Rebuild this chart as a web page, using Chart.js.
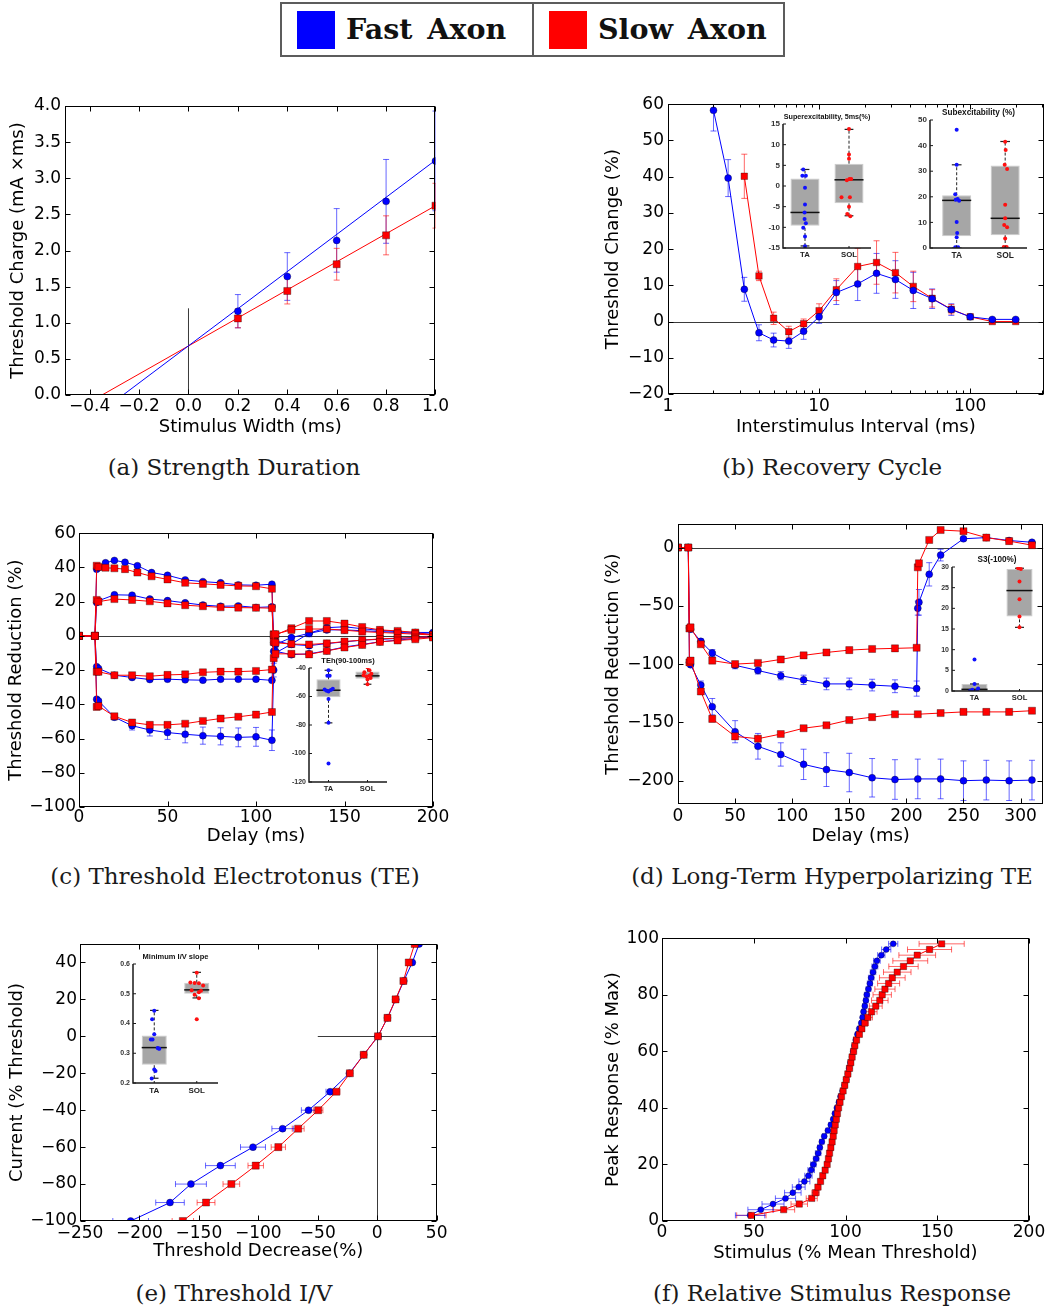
<!DOCTYPE html>
<html><head><meta charset="utf-8">
<script src="https://cdn.jsdelivr.net/npm/chart.js@4.4.0/dist/chart.umd.min.js"></script>
<style>
html,body{margin:0;padding:0;background:#fff;}
body{width:1049px;height:1309px;position:relative;overflow:hidden;}
canvas{position:absolute;}
.cap{position:absolute;font-family:"DejaVu Serif",serif;font-size:23px;line-height:1;white-space:nowrap;transform:translate(-50%,-50%);color:#1a1a1a;}
.lg{position:absolute;font-family:"DejaVu Serif",serif;font-weight:bold;font-size:28.5px;line-height:1;white-space:nowrap;word-spacing:5px;color:#111;}
.sw{position:absolute;width:38px;height:38px;}
</style></head><body>
<div style="position:absolute;left:280px;top:2px;width:505px;height:55px;box-sizing:border-box;border:2px solid #5c5c5c;"></div>
<div style="position:absolute;left:532px;top:2px;width:2px;height:55px;background:#5c5c5c;"></div>
<div class="sw" style="left:297px;top:11px;background:#0000ff"></div>
<div class="lg" style="left:346px;top:14.5px;">Fast Axon</div>
<div class="sw" style="left:549px;top:11px;background:#ff0000"></div>
<div class="lg" style="left:598px;top:14.5px;">Slow Axon</div>

<div class="cap" style="left:234px;top:467px;">(a) Strength Duration</div>
<div class="cap" style="left:832px;top:467px;">(b) Recovery Cycle</div>
<div class="cap" style="left:235px;top:876px;">(c) Threshold Electrotonus (TE)</div>
<div class="cap" style="left:832px;top:876px;">(d) Long-Term Hyperpolarizing TE</div>
<div class="cap" style="left:234px;top:1293px;">(e) Threshold I/V</div>
<div class="cap" style="left:832px;top:1293px;">(f) Relative Stimulus Response</div>

<script>
// ---------------- DATA ----------------
// (a) Strength duration
const sdWidth   = [0.2, 0.4, 0.6, 0.8, 1.0];
const sdFast    = [1.16, 1.64, 2.14, 2.68, 3.24];
const sdFastErr = [0.23, 0.33, 0.44, 0.58, 0.69];
const sdSlow    = [1.06, 1.44, 1.81, 2.21, 2.62];
const sdSlowErr = [0.13, 0.18, 0.22, 0.27, 0.31];
const sdFastFitX = [-0.265, 1.0], sdFastFitY = [0, 3.25];
const sdSlowFitX = [-0.35, 1.0],  sdSlowFitY = [0, 2.62];
const sdRefX = [0, 0], sdRefY = [0, 1.2];
const sdTicksX = [-0.4, -0.2, 0, 0.2, 0.4, 0.6, 0.8, 1.0];
const sdTicksY = [0, 0.5, 1, 1.5, 2, 2.5, 3, 3.5, 4];

// (b) Recovery cycle
const rcInterval = [2, 2.5, 3.2, 4, 5, 6.3, 7.9, 10, 13, 18, 24, 32, 42, 56, 75, 100, 140, 200];
const rcFast    = [58.3, 39.6, 8.9, -3.1, -5.1, -5.4, -2.7, 1.3, 8.0, 10.4, 13.3, 11.6, 8.6, 6.3, 3.3, 1.3, 0.6, 0.6];
const rcFastErr = [5.7, 5.1, 3.3, 2.2, 1.9, 2.0, 2.2, 1.8, 3.3, 4.6, 5.5, 5.2, 5.0, 2.7, 1.6, 0.6, 0.4, 0.3];
const rcSlowInterval = [3.2, 4, 5, 6.3, 7.9, 10, 13, 18, 24, 32, 42, 56, 75, 100, 140, 200];
const rcSlow    = [40.1, 12.6, 0.9, -2.8, -0.6, 3.0, 8.8, 15.2, 16.3, 13.5, 9.7, 6.4, 3.4, 1.3, 0.0, 0.0];
const rcSlowErr = [6.1, 1.3, 1.7, 1.5, 1.3, 1.9, 3.0, 5.0, 6.0, 5.6, 4.2, 2.4, 1.3, 0.4, 0.3, 0.2];
const rcTicksX = [1, 10, 100];
const rcMinorX = [2, 3, 4, 5, 6, 7, 8, 9, 20, 30, 40, 50, 60, 70, 80, 90, 200, 300];
const rcTicksY = [-20, -10, 0, 10, 20, 30, 40, 50, 60];

// (c) Threshold electrotonus
const teDelayA  = [0, 9, 10, 11, 15, 20, 26, 33, 41, 50, 60, 70, 80, 90, 100, 109, 110, 111, 120, 130, 140, 150, 160, 170, 180, 190, 200];
const teFastP40 = [0, 0, 39, 40, 42.7, 44.1, 43, 41, 37, 35.4, 32.7, 31.7, 31, 29.8, 29.6, 30.2, -4, -9, -11, -10.5, -8.7, -6.5, -5, -3.5, -2.5, -1.5, -0.5];
const teSlowP40 = [0, 0, 41, 40.2, 39.8, 39.5, 39, 37, 34.8, 33, 31, 30.4, 29.8, 29.2, 29, 27.5, -13, -10.5, -10.5, -10.8, -8.8, -6.8, -5.3, -3.5, -2.7, -2, -1];
const teDelayB  = [0, 9, 10, 11, 20, 30, 40, 50, 60, 70, 80, 90, 100, 109, 110, 111, 120, 130, 140, 150, 160, 170, 180, 190, 200];
const teFastP20 = [0, 0, 19.5, 20.5, 24, 23.8, 21.5, 20.6, 19.3, 18, 17.3, 17.5, 16.6, 17, -1, -3, -5, -5.7, -4.5, -3.5, -2.5, -2, -1.5, -1, -0.5];
const teSlowP20 = [0, 0, 21, 20, 21.5, 21, 20.2, 19, 17.9, 17.3, 16.7, 16.5, 16.4, 16.2, -3.5, -4, -4.8, -5, -4.4, -3.3, -2.5, -1.8, -1.3, -1, -0.5];
const teFastM20 = [0, 0, -18, -19, -23, -24.3, -25.5, -25.3, -25.7, -25.9, -25.3, -25.3, -25.3, -26, -9, -5, -1, 1.5, 3.5, 3.5, 3, 2.5, 2, 1.5, 1];
const teSlowM20 = [0, 0, -21, -21, -23, -23, -23.6, -22.8, -22.5, -21.3, -20.9, -20.9, -20.5, -19.7, 0.5, 1, 3.5, 4, 4, 3.3, 2.5, 2, 1.5, 1, 0.5];
const teFastM40 = [0, 0, -37, -38, -47.5, -52.5, -55, -56.5, -57.5, -58.3, -58.7, -59.3, -59, -61, -20, -10, -4.8, 1.5, 4.8, 5.3, 4.2, 3.2, 2.5, 2, 2];
const teFastM40Err = [0, 0, 1, 1, 1.5, 2.5, 3.5, 4, 5, 5, 5, 5.5, 5.5, 6, 4, 3, 2, 2, 1.5, 1.5, 1, 1, 1, 1, 1];
const teSlowM40 = [0, 0, -41.5, -41, -47, -50.6, -52, -52, -51.3, -49.7, -48.3, -47.3, -46, -44.5, 1, 0.5, 4.5, 8.7, 8.7, 7.2, 5.2, 3.5, 2.9, 2, 0.5];
const teTicksX = [0, 50, 100, 150, 200];
const teTicksY = [-100, -80, -60, -40, -20, 0, 20, 40, 60];

// (d) Long-term hyperpolarizing TE
const lhDelayUpper = [0, 9, 10, 11, 20, 30, 50, 70, 90, 110, 130, 150, 170, 190, 209, 210, 211, 220, 230, 250, 270, 290, 310];
const lhFastUpper    = [0, 0, -69, -70, -80.5, -90.5, -101, -105.5, -110, -113.5, -117, -117, -118, -119, -121, -52, -47, -23, -6.5, 7.5, 8.5, 6, 4.5];
const lhFastUpperErr = [0, 0, 1, 1, 2, 3, 3, 3, 3.5, 4, 5, 5, 5, 5.5, 6.5, 6, 11, 10, 5, 1.5, 1.5, 1, 1];
const lhSlowUpper    = [0, 0, -69.5, -68.5, -83, -97, -100, -99, -96, -92.5, -90, -88, -87, -86.5, -86, -17, -13.5, 6.5, 15, 14, 8.5, 5.5, 2];
const lhSlowUpperErr = [0, 0, 1, 1, 1.5, 2, 2, 2, 1.5, 1.5, 1.5, 1.5, 1.5, 1.5, 1.5, 2, 2, 1.5, 1.5, 1.5, 1, 1, 1];
const lhDelayLower = [0, 9, 10, 11, 20, 30, 50, 70, 90, 110, 130, 150, 170, 190, 210, 230, 250, 270, 290, 310];
const lhFastLower    = [0, 0, -98.5, -100.5, -118, -136.5, -158, -170.5, -177.5, -186, -190.5, -193, -197.5, -199, -198.5, -198.5, -200, -199.5, -200, -199.5];
const lhFastLowerErr = [0, 0, 1, 1, 3.5, 7, 9.5, 11, 10, 13, 14.5, 16.5, 16.5, 17, 17, 17, 17, 17, 17, 17];
const lhSlowLower    = [0, 0, -98.5, -97, -123.5, -147, -162, -164, -160, -155, -152.5, -148, -145.5, -143, -143, -142, -141, -141, -141, -140];
const lhSlowLowerErr = [0, 0, 1, 1, 2, 2.5, 2.5, 2.5, 2, 2, 2, 2, 2, 2, 2, 2, 2, 2, 2, 2];
const lhTicksX = [0, 50, 100, 150, 200, 250, 300];
const lhTicksY = [-200, -150, -100, -50, 0];

// (e) Threshold I/V
const ivCurrent = [50, 40, 30, 20, 10, 0, -10, -20, -30, -40, -50, -60, -70, -80, -90, -100];
const ivFast    = [35.2, 29.5, 22.3, 15.6, 8.6, 0.6, -11.4, -23.4, -39.6, -57.8, -79.6, -104.5, -131.9, -156.7, -174.3, -207.4];
const ivFastErr = [1, 1, 1, 1, 0.5, 0.5, 0.5, 1, 3.5, 6, 9, 10.5, 12.5, 13, 12, 15];
const ivSlow    = [31.5, 26.5, 22, 15.4, 8.6, 0.6, -11.4, -23, -34.4, -49.7, -66.5, -83.2, -102.2, -122.7, -144, -163.5];
const ivSlowErr = [1, 1, 1, 1, 0.5, 0.5, 0.5, 1, 3, 4, 5, 6, 6.5, 7, 7.5, 9];
const ivTicksX = [-250, -200, -150, -100, -50, 0, 50];
const ivTicksY = [-100, -80, -60, -40, -20, 0, 20, 40];

// (f) Relative stimulus response
const srResponse = [2, 4, 6, 8, 10, 12, 14, 16, 18, 20, 22, 24, 26, 28, 30, 32, 34, 36, 38, 40, 42, 44, 46, 48, 50,
                    52, 54, 56, 58, 60, 62, 64, 66, 68, 70, 72, 74, 76, 78, 80, 82, 84, 86, 88, 90, 92, 94, 96, 98];
const srFast = [48, 53.8, 60.5, 67.3, 71.3, 74.5, 77.6, 79.8, 81.3, 82.5, 84, 85.1, 86, 87.1, 88.4, 90.4, 92, 93.3, 94.2, 95.3,
                96.4, 97.3, 98.4, 99.5, 100.4, 101.3, 102, 102.7, 103.5, 104.2, 104.9, 105.6, 106.5, 107.5, 108.6, 109.3, 109.8,
                110.5, 111.1, 111.6, 112.5, 113.3, 114, 115, 116, 117.1, 119.5, 122.2, 126];
const srFastErr = [8, 7, 6, 5.5, 4.5, 3.5, 3, 2, 1.8, 1.5, 1.5, 1.5, 1.2, 1.2, 1, 1, 1, 1, 1, 1, 1, 1, 1, 1, 1,
                   1, 1, 1, 1, 1, 1, 1, 1, 1, 1, 1, 1, 1.2, 1.2, 1.3, 1.3, 1.4, 1.5, 1.5, 1.6, 1.8, 2, 2.5, 2.5];
const srSlow = [48.7, 66.3, 74.8, 81.6, 83.7, 85, 86.4, 87.6, 88.9, 90, 90.7, 91.3, 92, 92.7, 93.3, 93.8, 94.4, 95, 95.6, 96.2,
                97, 97.8, 98.7, 99.6, 100.4, 101.3, 102.2, 102.9, 103.6, 104.4, 105.1, 106, 107.5, 108.9, 110.5, 112.2, 114.2,
                116.5, 118.7, 120, 121.5, 123.5, 125.5, 128.2, 131.6, 135.3, 139.1, 145.8, 152.4];
const srSlowErr = [8, 6, 4.5, 3, 2, 1.5, 1.2, 1, 1, 1, 1, 1, 1, 1, 1, 1, 1, 1, 1, 1, 1, 1, 1, 1, 1,
                   1, 1, 1, 1, 1, 1, 1.2, 1.5, 1.5, 2, 2.5, 3, 3.5, 4.5, 5, 5.5, 6, 7, 7.5, 8, 9.5, 10, 12, 12.3];
const srTicksX = [0, 50, 100, 150, 200];
const srTicksY = [0, 20, 40, 60, 80, 100];

// Inset box plots
const superTA = [4.0, 2.5, 2.5, -0.4, -4.5, -6.4, -8.0, -9.0, -10.1, -12.2, -14.6];
const superTAJit = [-0.04, -0.06, 0.02, 0, 0, -0.01, -0.01, 0.02, -0.04, 0, 0];
const superSOL = [13.8, 7.6, 6.6, 1.7, 1.7, 1.4, -2.7, -2.7, -5.0, -6.8, -7.3];
const superSOLJit = [0, 0, 0, 0.01, 0.05, -0.05, -0.17, 0.02, 0, -0.04, 0.03];
const superBox = [[-9.6, 1.8], [-4.2, 5.4]], superMed = [-6.4, 1.5], superWhisk = [[-14.5, 4.0], [-7.2, 13.7]];
const superTicks = [-15, -10, -5, 0, 5, 10, 15];

const subTA = [46.2, 32.5, 21, 19.1, 18.8, 18.5, 10.2, 5.9, 4.2, 0.3, 0.3];
const subTAJit = [0, 0, -0.03, 0.02, -0.02, 0.05, 0, 0.01, 0, -0.03, 0.03];
const subSOL = [41.5, 38.3, 32.5, 30.9, 16.9, 11.6, 9.0, 8.1, 3.7, 0.4, 0.4];
const subSOLJit = [0, 0.01, -0.01, 0.04, 0, 0, -0.02, 0.04, 0, -0.03, 0.03];
const subBox = [[4.6, 20.6], [5, 32.2]], subMed = [18.6, 11.6], subWhisk = [[0, 32.5], [0, 41.6]];
const subTicks = [0, 10, 20, 30, 40, 50];

const tehTA = [-41.6, -45.5, -45.5, -55, -56, -56.5, -55.5, -54.5, -61.7, -78.5, -107];
const tehTAJit = [0, -0.03, 0.03, -0.1, -0.05, 0, 0.06, 0.11, 0, 0, 0];
const tehSOL = [-39.5, -41.5, -43, -44, -45, -45.5, -46, -47, -48, -51.4];
const tehSOLJit = [0, 0.05, -0.08, 0.1, -0.1, 0.05, -0.03, 0.08, 0, 0];
const tehBox = [[-60.5, -47.9], [-47.5, -42.5]], tehMed = [-55.6, -45.5], tehWhisk = [[-78.5, -41.6], [-51.4, -39.3]];
const tehTicks = [-120, -100, -80, -60, -40];

const s3TA = [7.6, 1.7, 0.6, 0.3, 0, 0];
const s3TAJit = [0, 0, 0.08, -0.05, -0.1, 0.05];
const s3SOL = [29.7, 29.5, 26.5, 22.2, 18, 15.4];
const s3SOLJit = [-0.03, 0.03, 0, 0, 0, 0];
const s3Box = [[0, 1.7], [18, 29.5]], s3Med = [0.4, 24.3], s3Whisk = [[0, 1.7], [15.4, 29.7]];
const s3Ticks = [0, 5, 10, 15, 20, 25, 30];

const ivsTA = [0.443, 0.414, 0.364, 0.346, 0.346, 0.318, 0.316, 0.315, 0.245, 0.24, 0.215];
const ivsTAJit = [0, -0.05, 0, -0.08, -0.04, 0.08, 0.1, 0.12, 0, 0.03, -0.06];
const ivsSOL = [0.571, 0.538, 0.536, 0.535, 0.528, 0.512, 0.51, 0.505, 0.497, 0.485, 0.414];
const ivsSOLJit = [0, -0.15, -0.05, 0.05, 0.15, -0.12, 0.1, 0.05, -0.05, 0.05, 0];
const ivsBox = [[0.2615, 0.36], [0.50, 0.537]], ivsMed = [0.319, 0.513], ivsWhisk = [[0.216, 0.444], [0.486, 0.572]];
const ivsTicks = [0.2, 0.3, 0.4, 0.5, 0.6];
const groupNames = ['TA', 'SOL'];

// ---------------- STYLE / HELPERS ----------------
const FONT = '"DejaVu Sans", sans-serif';
const IFONT = '"Liberation Sans", Arial, sans-serif';
const BLUE = '#0000ff', RED = '#ff0000';
const BLUE_E = 'rgba(0,0,255,0.6)', RED_E = 'rgba(255,0,0,0.6)';
const DECOR = {};

const pts = (xs, ys) => xs.map((x, i) => ({x: x, y: ys[i]}));
const minus = s => s.replace('-', '\u2212');
const fmt = d => v => minus(Number(v).toFixed(d));

function series(xs, ys, color, square, extra) {
  return Object.assign({
    data: pts(xs, ys), showLine: true, borderColor: color, backgroundColor: color, borderWidth: 1,
    pointStyle: square ? 'rect' : 'circle', pointRadius: square ? 5 : 3.5,
    pointBackgroundColor: color, pointBorderColor: 'rgba(0,0,0,0.55)', pointBorderWidth: 0.6,
    tension: 0, order: 1, errColor: color === BLUE ? BLUE_E : RED_E
  }, extra || {});
}
function plainLine(xs, ys, color, width, order) {
  return {data: pts(xs, ys), showLine: true, borderColor: color, borderWidth: width, pointRadius: 0, order: order};
}

const decor = {
  id: 'decor',
  beforeDatasetsDraw(chart) {
    const o = DECOR[chart.canvas.id]; if (!o) return;
    const {ctx, chartArea: a, scales: {x, y}} = chart;
    ctx.save();
    ctx.beginPath(); ctx.rect(a.left, a.top, a.right - a.left, a.bottom - a.top); ctx.clip();
    (o.refLines || []).forEach(r => {
      ctx.strokeStyle = '#3a3a3a'; ctx.lineWidth = 1; ctx.beginPath();
      if (r.x !== undefined) {
        const px = Math.round(x.getPixelForValue(r.x)) + 0.5;
        ctx.moveTo(px, r.y0 !== undefined ? y.getPixelForValue(r.y0) : a.bottom);
        ctx.lineTo(px, r.y1 !== undefined ? y.getPixelForValue(r.y1) : a.top);
      } else {
        const py = Math.round(y.getPixelForValue(r.y)) + 0.5;
        ctx.moveTo(r.x0 !== undefined ? x.getPixelForValue(r.x0) : a.left, py);
        ctx.lineTo(r.x1 !== undefined ? x.getPixelForValue(r.x1) : a.right, py);
      }
      ctx.stroke();
    });
    const cap = 3;
    chart.data.datasets.forEach(ds => {
      if (!ds.errY && !ds.errX) return;
      ctx.strokeStyle = ds.errColor; ctx.lineWidth = 1;
      ds.data.forEach((p, i) => {
        const px = x.getPixelForValue(p.x), py = y.getPixelForValue(p.y);
        ctx.beginPath();
        if (ds.errY && ds.errY[i]) {
          const e = ds.errY[i], y1 = y.getPixelForValue(p.y + e), y2 = y.getPixelForValue(p.y - e);
          ctx.moveTo(px, y1); ctx.lineTo(px, y2);
          ctx.moveTo(px - cap, y1); ctx.lineTo(px + cap, y1);
          ctx.moveTo(px - cap, y2); ctx.lineTo(px + cap, y2);
        }
        if (ds.errX && ds.errX[i]) {
          const e = ds.errX[i], x1 = x.getPixelForValue(p.x - e), x2 = x.getPixelForValue(p.x + e);
          ctx.moveTo(x1, py); ctx.lineTo(x2, py);
          ctx.moveTo(x1, py - cap); ctx.lineTo(x1, py + cap);
          ctx.moveTo(x2, py - cap); ctx.lineTo(x2, py + cap);
        }
        ctx.stroke();
      });
    });
    ctx.restore();
  },
  afterDraw(chart) {
    const o = DECOR[chart.canvas.id]; if (!o) return;
    const {ctx, chartArea: a, scales: {x, y}} = chart;
    ctx.save();
    if (o.frame) {
      const L = Math.round(a.left) + 0.5, R = Math.round(a.right) - 0.5, T = Math.round(a.top) + 0.5, B = Math.round(a.bottom) - 0.5;
      ctx.strokeStyle = '#000'; ctx.lineWidth = 1;
      ctx.strokeRect(L, T, R - L, B - T);
      ctx.beginPath();
      const tx = (v, len) => { if (v < x.min || v > x.max) return; const p = Math.round(x.getPixelForValue(v)) + 0.5;
        ctx.moveTo(p, B); ctx.lineTo(p, B - len); ctx.moveTo(p, T); ctx.lineTo(p, T + len); };
      const ty = (v, len) => { if (v < y.min || v > y.max) return; const p = Math.round(y.getPixelForValue(v)) + 0.5;
        ctx.moveTo(L, p); ctx.lineTo(L + len, p); ctx.moveTo(R, p); ctx.lineTo(R - len, p); };
      x.ticks.forEach(t => tx(t.value, 5));
      y.ticks.forEach(t => ty(t.value, 5));
      (o.minorX || []).forEach(v => tx(v, 3));
      ctx.stroke();
    }
    if (o.inset) {
      ctx.strokeStyle = '#1a1a1a'; ctx.lineWidth = 1.5;
      ctx.beginPath();
      ctx.moveTo(a.left, a.top); ctx.lineTo(a.left, a.bottom); ctx.lineTo(a.right, a.bottom);
      ctx.stroke();
      ctx.lineWidth = 1; ctx.beginPath();
      y.ticks.forEach(t => { const p = y.getPixelForValue(t.value); ctx.moveTo(a.left, p); ctx.lineTo(a.left + 3, p); });
      x.ticks.forEach(t => { const p = x.getPixelForValue(t.value); ctx.moveTo(p, a.bottom); ctx.lineTo(p, a.bottom - 2); });
      ctx.stroke();
      ctx.fillStyle = '#111'; ctx.font = 'bold ' + o.titleSize + 'px ' + IFONT; ctx.textAlign = 'center'; ctx.textBaseline = 'middle';
      ctx.fillText(o.title, (a.left + a.right) / 2, a.top - o.titleDy);
    }
    ctx.restore();
  }
};

function axisCfg(which, c, size) {
  return {
    type: c.type || 'linear', min: c.min, max: c.max, offset: false,
    grid: {display: false, drawTicks: false}, border: {display: false},
    ticks: {font: {family: FONT, size: 17}, color: '#000', padding: c.tickPad, autoSkip: false,
            maxRotation: 0, minRotation: 0, callback: v => c.fmt(v)},
    title: {display: true, text: c.title, font: {family: FONT, size: 18}, color: '#000',
            padding: which === 'x' ? {top: 0, bottom: c.titlePad} : {top: c.titlePad, bottom: 0}},
    afterBuildTicks: s => { s.ticks = c.ticks.map(v => ({value: v})); },
    afterFit: s => { if (which === 'x') s.height = size; else s.width = size; }
  };
}

function mainChart(id, g, cfg) {
  const cv = document.createElement('canvas');
  cv.id = id; cv.width = g.width; cv.height = g.height;
  cv.style.left = g.left + 'px'; cv.style.top = g.top + 'px';
  document.body.appendChild(cv);
  DECOR[id] = Object.assign({frame: true}, cfg.decor || {});
  return new Chart(cv, {
    type: 'scatter',
    data: {datasets: cfg.datasets},
    options: {
      responsive: false, animation: false, devicePixelRatio: 1, events: [],
      layout: {padding: {left: 0, top: g.T - g.top, right: g.left + g.width - g.R, bottom: 0}},
      plugins: {legend: {display: false}, tooltip: {enabled: false}},
      scales: {x: axisCfg('x', cfg.x, g.top + g.height - g.B), y: axisCfg('y', cfg.y, g.L - g.left)}
    },
    plugins: [decor]
  });
}

function insetChart(id, g, c) {
  const padL = 30, padT = 18, padR = 8, padB = 18;
  const cv = document.createElement('canvas');
  cv.id = id; cv.width = g.R - g.L + padL + padR; cv.height = g.B - g.T + padT + padB;
  cv.style.left = (g.L - padL) + 'px'; cv.style.top = (g.T - padT) + 'px';
  document.body.appendChild(cv);
  DECOR[id] = {inset: true, title: c.title, titleDy: 7, titleSize: c.titleSize};
  const ds = [];
  ds.push({type: 'bar', data: [{x: 1, y: c.box[0]}, {x: 2, y: c.box[1]}], backgroundColor: '#a6a6a6',
           borderColor: '#cbcbcb', borderWidth: 1, borderSkipped: false, barPercentage: c.bp,
           categoryPercentage: 1, order: 10});
  const seg = (p, col, w, dash, ord) => ({data: p, showLine: true, borderColor: col, borderWidth: w,
           borderDash: dash, pointRadius: 0, order: ord});
  [0, 1].forEach(k => {
    const cx = k + 1, b = c.box[k], w = c.whisk[k];
    ds.push(seg([{x: cx, y: b[1]}, {x: cx, y: w[1]}], '#222', 1, [3, 2], 6));
    ds.push(seg([{x: cx, y: w[0]}, {x: cx, y: b[0]}], '#222', 1, [3, 2], 6));
    ds.push(seg([{x: cx - 0.1, y: w[1]}, {x: cx + 0.1, y: w[1]}], '#222', 1.2, [], 5));
    ds.push(seg([{x: cx - 0.1, y: w[0]}, {x: cx + 0.1, y: w[0]}], '#222', 1.2, [], 5));
    ds.push(seg([{x: cx - c.bp / 2, y: c.med[k]}, {x: cx + c.bp / 2, y: c.med[k]}], '#111', 1.5, [], 4));
  });
  ds.push({data: c.ta.map((v, i) => ({x: 1 + c.taJ[i], y: v})), pointRadius: 2, pointBackgroundColor: '#1010ff', pointBorderWidth: 0, order: 1});
  ds.push({data: c.sol.map((v, i) => ({x: 2 + c.solJ[i], y: v})), pointRadius: 2, pointBackgroundColor: '#ff1010', pointBorderWidth: 0, order: 1});
  return new Chart(cv, {
    type: 'scatter',
    data: {datasets: ds},
    options: {
      responsive: false, animation: false, devicePixelRatio: 1, events: [],
      layout: {padding: {left: 0, top: padT, right: padR, bottom: 0}},
      plugins: {legend: {display: false}, tooltip: {enabled: false}},
      scales: {
        x: {type: 'linear', min: c.xmin, max: c.xmax, offset: false, grid: {display: false, drawTicks: false}, border: {display: false},
            ticks: {font: {family: IFONT, size: c.catSize, weight: 'bold'}, color: '#222', padding: 2.5, autoSkip: false, maxRotation: 0,
                    callback: v => groupNames[Math.round(v) - 1]},
            afterBuildTicks: s => { s.ticks = [{value: 1}, {value: 2}]; },
            afterFit: s => { s.height = padB; }},
        y: {type: 'linear', min: c.ymin, max: c.ymax, grid: {display: false, drawTicks: false}, border: {display: false},
            ticks: {font: {family: IFONT, size: c.tickSize, weight: 'bold'}, color: '#333', padding: 3, autoSkip: false,
                    callback: v => c.dec ? Number(v).toFixed(c.dec) : String(v)},
            afterBuildTicks: s => { s.ticks = c.yTicks.map(v => ({value: v})); },
            afterFit: s => { s.width = padL; }}
      }
    },
    plugins: [decor]
  });
}

// ---------------- PANELS ----------------
// (a)
mainChart('cA', {left: 0, top: 90, width: 450, height: 360, L: 65, T: 106, R: 436, B: 395}, {
  x: {min: -0.5, max: 1.0, ticks: sdTicksX, fmt: fmt(1), tickPad: 1, title: 'Stimulus Width (ms)', titlePad: 11.5},
  y: {min: 0, max: 4.0, ticks: sdTicksY, fmt: fmt(1), tickPad: 4, title: 'Threshold Charge (mA \u00d7ms)', titlePad: 8},
  decor: {},
  datasets: [
    series(sdWidth, sdFast, BLUE, false, {showLine: false, errY: sdFastErr}),
    series(sdWidth, sdSlow, RED, true, {showLine: false, errY: sdSlowErr}),
    plainLine(sdFastFitX, sdFastFitY, BLUE, 1, 5),
    plainLine(sdSlowFitX, sdSlowFitY, RED, 1, 5),
    plainLine(sdRefX, sdRefY, '#3a3a3a', 1, 6)
  ]
});

// (b)
mainChart('cB', {left: 600, top: 90, width: 449, height: 360, L: 668, T: 102, R: 1046, B: 394}, {
  x: {type: 'logarithmic', min: 1, max: 307, ticks: rcTicksX, fmt: v => String(v), tickPad: 2, title: 'Interstimulus Interval (ms)', titlePad: 11.5},
  y: {min: -20, max: 60, ticks: rcTicksY, fmt: fmt(0), tickPad: 4, title: 'Threshold Change (%)', titlePad: 3},
  decor: {minorX: rcMinorX, refLines: [{y: 0}]},
  datasets: [
    series(rcInterval, rcFast, BLUE, false, {errY: rcFastErr}),
    series(rcSlowInterval, rcSlow, RED, true, {errY: rcSlowErr, pointRadius: 4.6})
  ]
});

// (c)
mainChart('cC', {left: 0, top: 520, width: 450, height: 345, L: 79, T: 531, R: 433, B: 807}, {
  x: {min: 0, max: 200, ticks: teTicksX, fmt: fmt(0), tickPad: 0, title: 'Delay (ms)', titlePad: 17.5},
  y: {min: -100, max: 60, ticks: teTicksY, fmt: fmt(0), tickPad: 3, title: 'Threshold Reduction (%)', titlePad: 6},
  decor: {refLines: [{y: 0}]},
  datasets: [
    series(teDelayA, teSlowP40, RED, true),
    series(teDelayB, teSlowP20, RED, true),
    series(teDelayB, teSlowM20, RED, true),
    series(teDelayB, teSlowM40, RED, true),
    series(teDelayA, teFastP40, BLUE, false),
    series(teDelayB, teFastP20, BLUE, false),
    series(teDelayB, teFastM20, BLUE, false),
    series(teDelayB, teFastM40, BLUE, false, {errY: teFastM40Err})
  ]
});

// (d)
mainChart('cD', {left: 600, top: 510, width: 449, height: 355, L: 678, T: 520, R: 1046, B: 804}, {
  x: {min: 0, max: 320, ticks: lhTicksX, fmt: fmt(0), tickPad: 2, title: 'Delay (ms)', titlePad: 17.5},
  y: {min: -220, max: 20, ticks: lhTicksY, fmt: fmt(0), tickPad: 4, title: 'Threshold Reduction (%)', titlePad: 3},
  decor: {refLines: [{y: 0}]},
  datasets: [
    series(lhDelayUpper, lhSlowUpper, RED, true, {errY: lhSlowUpperErr}),
    series(lhDelayLower, lhSlowLower, RED, true, {errY: lhSlowLowerErr}),
    series(lhDelayUpper, lhFastUpper, BLUE, false, {errY: lhFastUpperErr}),
    series(lhDelayLower, lhFastLower, BLUE, false, {errY: lhFastLowerErr})
  ]
});

// (e)
mainChart('cE', {left: 0, top: 930, width: 450, height: 340, L: 80, T: 944, R: 438, B: 1221}, {
  x: {min: -250, max: 50, ticks: ivTicksX, fmt: fmt(0), tickPad: 2.5, title: 'Threshold Decrease(%)', titlePad: 7.5},
  y: {min: -100, max: 50, ticks: ivTicksY, fmt: fmt(0), tickPad: 3, title: 'Current (% Threshold)', titlePad: 6.5},
  decor: {refLines: [{x: 0}, {y: 0, x0: -50, x1: 50}]},
  datasets: [
    series(ivSlow, ivCurrent, RED, true, {errX: ivSlowErr}),
    series(ivFast, ivCurrent, BLUE, false, {errX: ivFastErr})
  ]
});

// (f)
mainChart('cF', {left: 600, top: 925, width: 449, height: 345, L: 662, T: 937, R: 1029, B: 1221}, {
  x: {min: 0, max: 200, ticks: srTicksX, fmt: fmt(0), tickPad: 1, title: 'Stimulus (% Mean Threshold)', titlePad: 6},
  y: {min: 0, max: 100, ticks: srTicksY, fmt: fmt(0), tickPad: 3, title: 'Peak Response (% Max)', titlePad: 3},
  decor: {},
  datasets: [
    series(srSlow, srResponse, RED, true, {errX: srSlowErr, pointRadius: 4.5}),
    series(srFast, srResponse, BLUE, false, {errX: srFastErr, pointRadius: 3})
  ]
});

// ---------------- INSETS ----------------
insetChart('iSuper', {L: 783, T: 124, R: 871, B: 248}, {title: 'Superexcitability, 5ms(%)', titleSize: 7.2, tickSize: 8, catSize: 7.8,
  xmin: 0.5, xmax: 2.5, ymin: -15, ymax: 15, yTicks: superTicks, bp: 0.66, box: superBox, med: superMed, whisk: superWhisk,
  ta: superTA, taJ: superTAJit, sol: superSOL, solJ: superSOLJit});
insetChart('iSub', {L: 930, T: 120, R: 1027, B: 248}, {title: 'Subexcitability (%)', titleSize: 8.2, tickSize: 8, catSize: 8.4,
  xmin: 0.45, xmax: 2.45, ymin: 0, ymax: 50, yTicks: subTicks, bp: 0.6, box: subBox, med: subMed, whisk: subWhisk,
  ta: subTA, taJ: subTAJit, sol: subSOL, solJ: subSOLJit});
insetChart('iTEh', {L: 309, T: 668, R: 387, B: 782}, {title: 'TEh(90-100ms)', titleSize: 7.5, tickSize: 7, catSize: 7.5,
  xmin: 0.5, xmax: 2.5, ymin: -120, ymax: -40, yTicks: tehTicks, bp: 0.62, box: tehBox, med: tehMed, whisk: tehWhisk,
  ta: tehTA, taJ: tehTAJit, sol: tehSOL, solJ: tehSOLJit});
insetChart('iS3', {L: 952, T: 567, R: 1042, B: 691}, {title: 'S3(-100%)', titleSize: 8.2, tickSize: 7, catSize: 7.6,
  xmin: 0.5, xmax: 2.5, ymin: 0, ymax: 30, yTicks: s3Ticks, bp: 0.58, box: s3Box, med: s3Med, whisk: s3Whisk,
  ta: s3TA, taJ: s3TAJit, sol: s3SOL, solJ: s3SOLJit});
insetChart('iIVs', {L: 133, T: 964, R: 218, B: 1083}, {title: 'Minimum I/V slope', titleSize: 7.5, tickSize: 7, catSize: 8,
  xmin: 0.5, xmax: 2.5, ymin: 0.2, ymax: 0.6, yTicks: ivsTicks, dec: 1, bp: 0.59, box: ivsBox, med: ivsMed, whisk: ivsWhisk,
  ta: ivsTA, taJ: ivsTAJit, sol: ivsSOL, solJ: ivsSOLJit});
</script>
</body></html>
